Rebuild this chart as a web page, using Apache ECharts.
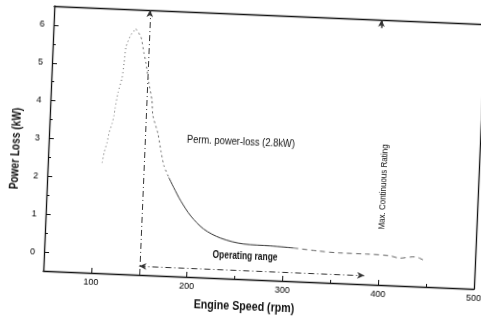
<!DOCTYPE html>
<html>
<head>
<meta charset="utf-8">
<script src="https://cdn.jsdelivr.net/npm/echarts@6/dist/echarts.min.js"></script>
<style>
html,body{margin:0;padding:0;background:#fff;overflow:hidden;width:481px;height:325px;}
#chart{width:520px;height:345px;transform:rotate(2.4deg);transform-origin:240.5px 162.5px;}
</style>
</head>
<body>
<div id="chart"></div>
<script>
// Data
const speedRpm = [106.7,108.3,111,112.6,115.3,117,117.8,120.2,123.7,125.2,126.5,131,136,141.7,145.5,148,152,155.9,157.5,163.6,167.4,171.2,176.9,182.5,190.3,201.5,215.5,233.5,257.6,285.8,309.8,334.9,358.8,386.9,410.6,421,436.9,442,449.5];
const powerLossKw = [2.42,2.69,2.96,3.22,3.46,3.68,3.87,4.29,4.67,5.07,5.50,5.82,5.99,5.78,5.36,5.10,4.57,4.12,3.72,3.25,2.80,2.41,2.10,1.84,1.50,1.11,0.78,0.56,0.43,0.41,0.38,0.33,0.30,0.30,0.28,0.23,0.28,0.25,0.16];
const xTickLabels = [100,200,300,400,500];
const yTickLabels = [0,1,2,3,4,5,6];
const minOperatingRpm = 150;
const maxContinuousRpm = 392;
const operatingRangeEnd = 385;
const operatingRangeY = -0.27;

const FONT = "'Liberation Sans',Arial,sans-serif";
const pts = speedRpm.map((x,i)=>[x, powerLossKw[i]]);
const seg = (a,b)=>pts.slice(a,b+1);

const chart = echarts.init(document.getElementById('chart'), null, {renderer:'canvas'});
const axisLineStyle = {color:'#111', width:1.3};
const tickFont = {fontSize:9, fontFamily:FONT, color:'#000'};
chart.setOption({
  animation:false,
  backgroundColor:'#fff',
  grid:{left:48, top:14, width:431, height:265, containLabel:false, outerBoundsMode:'none'},
  xAxis:[
    {type:'value', min:50, max:500, interval:50, position:'bottom', offset:0,
     axisLine:{show:true, onZero:false, lineStyle:axisLineStyle},
     axisTick:{show:true, inside:true, length:5, customValues:xTickLabels, lineStyle:{color:'#111'}},
     axisLabel:Object.assign({show:true, customValues:xTickLabels, margin:5}, tickFont),
     splitLine:{show:false}},
    {type:'value', min:50, max:500, interval:50, position:'bottom', offset:0,
     axisLine:{show:false, onZero:false}, axisTick:{show:true, inside:true, length:3, lineStyle:{color:'#111'}},
     axisLabel:{show:false}, splitLine:{show:false}},
    {type:'value', min:50, max:500, position:'top', offset:0,
     axisLine:{show:true, onZero:false, lineStyle:axisLineStyle}, axisTick:{show:false}, axisLabel:{show:false}, splitLine:{show:false}}
  ],
  yAxis:[
    {type:'value', min:-0.5, max:6.5, interval:0.5, position:'left', offset:0,
     axisLine:{show:true, onZero:false, lineStyle:axisLineStyle},
     axisTick:{show:true, inside:true, length:5, customValues:yTickLabels, lineStyle:{color:'#111'}},
     axisLabel:Object.assign({show:true, customValues:yTickLabels, margin:9}, tickFont),
     splitLine:{show:false}},
    {type:'value', min:-0.5, max:6.5, interval:0.5, position:'left', offset:0,
     axisLine:{show:false, onZero:false}, axisTick:{show:true, inside:true, length:3, lineStyle:{color:'#111'}},
     axisLabel:{show:false}, splitLine:{show:false}},
    {type:'value', min:-0.5, max:6.5, position:'right', offset:0,
     axisLine:{show:true, onZero:false, lineStyle:axisLineStyle}, axisTick:{show:false}, axisLabel:{show:false}, splitLine:{show:false}}
  ],
  series:[
    {type:'line', name:'rise', xAxisIndex:0, yAxisIndex:0, data:seg(0,12), showSymbol:false, smooth:0.2,
     lineStyle:{color:'#666', width:1, type:[1,3]}},
    {type:'line', name:'fall', xAxisIndex:0, yAxisIndex:0, data:seg(12,22), showSymbol:false, smooth:0.2,
     lineStyle:{color:'#666', width:1, type:[2,3]}},
    {type:'line', name:'decay', xAxisIndex:0, yAxisIndex:0, data:seg(22,30), showSymbol:false, smooth:0.3,
     lineStyle:{color:'#333', width:1, type:'solid'}},
    {type:'line', name:'tail', xAxisIndex:0, yAxisIndex:0, data:seg(30,38), showSymbol:false, smooth:0.3,
     lineStyle:{color:'#666', width:1, type:[5,4]},
     markLine:{silent:true, animation:false, label:{show:false}, symbolSize:[5,7],
       lineStyle:{color:'#333', width:1, type:[6,3,1,3]},
       data:[
         [{coord:[minOperatingRpm,-0.5], symbol:'none'},{coord:[minOperatingRpm,6.5], symbol:'arrow'}],
         [{coord:[minOperatingRpm,operatingRangeY], symbol:'arrow'},{coord:[operatingRangeEnd,operatingRangeY], symbol:'arrow'}],
         [{coord:[maxContinuousRpm,6.28], symbol:'none', lineStyle:{type:'solid', width:1.5}},{coord:[maxContinuousRpm,6.5], symbol:'arrow'}]
       ]}}
  ],
  graphic:[
    {type:'text', x:15, y:158, rotation:Math.PI/2, scaleX:0.78, style:{text:'Power Loss (kW)', font:"bold 13px "+FONT, fill:'#111', textAlign:'center', textVerticalAlign:'middle'}},
    {type:'text', x:250, y:306, scaleX:0.82, style:{text:'Engine Speed (rpm)', font:"bold 13px "+FONT, fill:'#111', textAlign:'center', textVerticalAlign:'middle'}},
    {type:'text', x:240, y:141.5, scaleX:0.85, style:{text:'Perm. power-loss (2.8kW)', font:"11px "+FONT, fill:'#111', textAlign:'center', textVerticalAlign:'middle'}},
    {type:'text', x:249, y:256.5, scaleX:0.8, style:{text:'Operating range', font:"bold 10.5px "+FONT, fill:'#111', textAlign:'center', textVerticalAlign:'middle'}},
    {type:'text', x:384, y:181, rotation:Math.PI/2, scaleX:0.84, style:{text:'Max. Continuous Rating', font:"9.5px "+FONT, fill:'#111', textAlign:'center', textVerticalAlign:'middle'}}
  ]
});
</script>
</body>
</html>
